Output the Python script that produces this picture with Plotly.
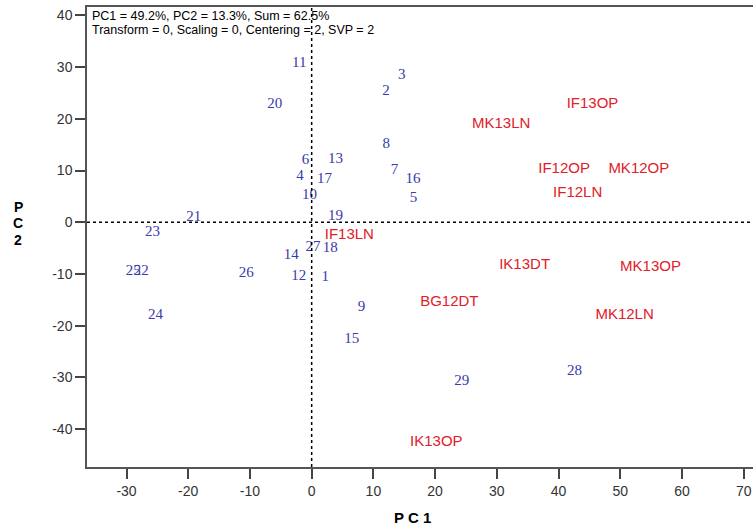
import plotly.graph_objects as go

# Sample scores (blue numbers)
sample_labels = ["1", "2", "3", "4", "5", "6", "7", "8", "9", "10", "11", "12", "13", "14", "15",
                 "16", "17", "18", "19", "20", "21", "22", "23", "24", "25", "26", "27", "28", "29"]
sample_pc1 = [2.2, 12.05, 14.6, -1.9, 16.5, -1.0, 13.4, 12.1, 8.06, -0.36, -2.0, -2.1, 3.85, -3.3, 6.5,
              16.4, 2.07, 3.0, 3.85, -6.0, -19.1, -27.6, -25.8, -25.3, -28.9, -10.6, 0.2, 42.6, 24.3]
sample_pc2 = [-10.7, 25.3, 28.5, 8.8, 4.6, 12.05, 10.0, 15.0, -16.4, 5.3, 30.8, -10.5, 12.2, -6.3, -22.6,
              8.3, 8.3, -5.0, 1.2, 22.8, 0.97, -9.55, -1.9, -17.9, -9.55, -9.8, -4.8, -28.7, -30.7]

# Variable loadings (red labels)
var_labels = ["IF13OP", "MK13LN", "IF12OP", "MK12OP", "IF12LN", "IF13LN", "IK13DT", "MK13OP",
              "BG12DT", "MK12LN", "IK13OP"]
var_pc1 = [45.5, 30.7, 40.9, 53.0, 43.1, 6.1, 34.5, 54.9, 22.3, 50.7, 20.2]
var_pc2 = [22.9, 19.0, 10.25, 10.25, 5.7, -2.5, -8.3, -8.7, -15.4, -17.9, -42.6]

x_ticks = [-30, -20, -10, 0, 10, 20, 30, 40, 50, 60, 70]
x_ticktext = ["-30", "-20", "-10", "0", "10", "20", "30", "40", "50", "60", "70"]
y_ticks = [-40, -30, -20, -10, 0, 10, 20, 30, 40]
y_ticktext = ["-40", "-30", "-20", "-10", "0", "10", "20", "30", "40"]

info_lines = ["PC1 = 49.2%, PC2 = 13.3%, Sum = 62.5%",
              "Transform = 0, Scaling = 0, Centering = 2, SVP = 2"]

SANS = "Liberation Sans, Arial, sans-serif"

fig = go.Figure()
fig.add_trace(go.Scatter(
    x=sample_pc1, y=sample_pc2, text=sample_labels, mode="text",
    textfont=dict(family="Liberation Serif, Times New Roman, serif", size=15, color="#3a3aaa"),
    textposition="middle center", hoverinfo="skip", showlegend=False))
fig.add_trace(go.Scatter(
    x=var_pc1, y=var_pc2, text=var_labels, mode="text",
    textfont=dict(family=SANS, size=15, color="#e0202a"),
    textposition="middle center", hoverinfo="skip", showlegend=False))

# zero reference lines
fig.add_shape(type="line", xref="x", yref="paper", x0=0, x1=0, y0=0, y1=1,
              line=dict(color="black", width=1.5, dash="3px,3px"))
fig.add_shape(type="line", xref="paper", yref="y", x0=0, x1=1, y0=0, y1=0,
              line=dict(color="black", width=1.5, dash="3px,3px"))

for line, ypos in zip(info_lines, [0.980, 0.950]):
    fig.add_annotation(xref="paper", yref="paper", x=0.004, y=ypos, xanchor="left", yanchor="middle",
                       text=line, showarrow=False, font=dict(family=SANS, size=12.5, color="black"))

fig.add_annotation(xref="paper", yref="paper", x=0.489, y=-0.109, xanchor="center", yanchor="middle",
                   text="<b>P C 1</b>", showarrow=False, font=dict(family=SANS, size=15, color="black"))
for letter, ypos in zip(["P", "C", "2"], [3.0, -0.2, -3.4]):
    fig.add_annotation(xref="paper", yref="y", x=-0.1036, y=ypos, xanchor="center", yanchor="middle",
                       text="<b>" + letter + "</b>", showarrow=False,
                       font=dict(family=SANS, size=14, color="black"))

fig.update_xaxes(range=[-36.4, 71.5], tickvals=x_ticks, ticktext=x_ticktext, showgrid=False, zeroline=False,
                 showline=True, linecolor="#555555", linewidth=1.5, mirror=True,
                 ticks="outside", ticklen=10, tickwidth=1.5, tickcolor="#444444", automargin=False,
                 tickfont=dict(family=SANS, size=14, color="#333333"))
fig.update_yaxes(range=[-47.3, 41.6], tickvals=y_ticks, ticktext=y_ticktext, showgrid=False, zeroline=False,
                 showline=True, linecolor="#555555", linewidth=1.5,
                 ticks="outside", ticklen=10, tickwidth=1.5, tickcolor="#444444", automargin=False,
                 tickfont=dict(family=SANS, size=14, color="#333333"))

fig.update_layout(width=753, height=526, margin=dict(l=87, r=0, t=7, b=59),
                  plot_bgcolor="white", paper_bgcolor="white")

fig.write_html("out.html", config={"displayModeBar": False},
               post_script="document.body.style.margin='0';document.body.style.overflow='hidden';")
